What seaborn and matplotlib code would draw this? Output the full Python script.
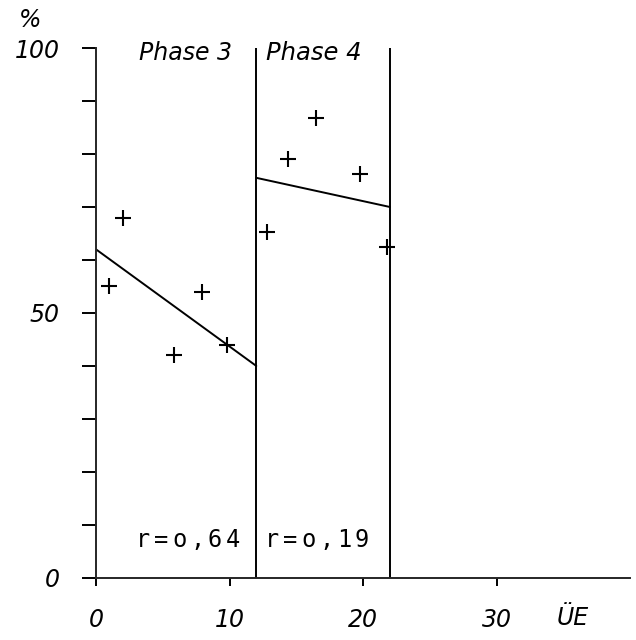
import matplotlib
matplotlib.use("Agg")
import matplotlib.pyplot as plt
import seaborn as sns
import pandas as pd

# points
phase3_x = [1, 2, 5.8, 7.9, 9.8]
phase3_y = [55, 68, 42, 54, 44]
phase4_x = [12.8, 14.4, 16.5, 19.8, 21.8]
phase4_y = [65.3, 79, 86.7, 76.2, 62.5]

# regression lines (ends)
fit3_x = [0, 12]
fit3_y = [62, 40]
fit4_x = [12, 22]
fit4_y = [75.5, 70]

phase_bounds = [12, 22]
phase_labels = ["Phase 3", "Phase 4"]
r_labels = ["r=o,64", "r=o,19"]

sns.set_style("ticks")
plt.rcParams["font.family"] = ["DejaVu Sans"]
plt.rcParams["text.color"] = "black"
plt.rcParams["xtick.color"] = "black"
plt.rcParams["ytick.color"] = "black"

fig = plt.figure(figsize=(6.36, 6.4), dpi=100)
ax = fig.add_axes([0.151, 0.097, 0.840, 0.828])

pts = pd.DataFrame({"x": phase3_x + phase4_x, "y": phase3_y + phase4_y})
sns.scatterplot(data=pts, x="x", y="y", marker="+", s=140, color="black",
                linewidth=1.5, ax=ax)

sns.lineplot(x=fit3_x, y=fit3_y, color="black", lw=1.4, ax=ax)
sns.lineplot(x=fit4_x, y=fit4_y, color="black", lw=1.4, ax=ax)

for b in phase_bounds:
    ax.plot([b, b], [0, 100], color="black", lw=1.4)

ax.set_xlim(0, 40)
ax.set_ylim(0, 100)
ax.set_xticks([0, 10, 20, 30])
ax.set_yticks(range(0, 101, 10))
ax.set_yticklabels(["0", "", "", "", "", "50", "", "", "", "", "100"])
ax.tick_params(axis="y", direction="out", length=10, width=1.4,
               labelsize=17, pad=16)
ax.tick_params(axis="x", direction="out", length=6, width=1.4,
               labelsize=17, pad=16)
for lab in ax.get_xticklabels() + ax.get_yticklabels():
    lab.set_fontstyle("italic")
ax.set_xlabel("")
ax.set_ylabel("")
sns.despine(ax=ax)
ax.spines["left"].set_linewidth(1.4)
ax.spines["bottom"].set_linewidth(1.4)

# phase titles
ax.text(10.2, 99.0, phase_labels[0], ha="right", va="center",
        fontsize=17, style="italic")
ax.text(12.7, 99.0, phase_labels[1], ha="left", va="center",
        fontsize=17.5, style="italic")

# correlation labels, typewriter style with wide letter spacing
step = 1.34
starts = [3.55, 13.2]
for lab, x0 in zip(r_labels, starts):
    for i, ch in enumerate(lab):
        ax.text(x0 + i * step, 5.9, ch, ha="center", va="baseline",
                fontsize=17, family="DejaVu Sans Mono")

fig.text(0.047, 0.968, "%", fontsize=17, style="italic", ha="center", va="center")
ax.text(35.7, -7.6, "ÜE", fontsize=17, style="italic", ha="center", va="center")

fig.savefig("out.png", dpi=100)
